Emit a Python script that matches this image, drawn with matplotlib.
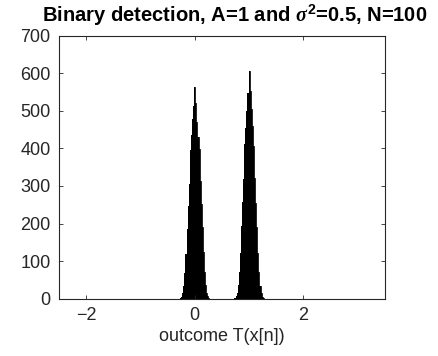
import numpy as np
import matplotlib
matplotlib.use("Agg")
import matplotlib.pyplot as plt

plt.rcParams['font.family'] = ['Liberation Sans', 'DejaVu Sans']
plt.rcParams['mathtext.fontset'] = 'custom'
plt.rcParams['mathtext.it'] = 'Liberation Serif:italic:bold'
plt.rcParams['mathtext.bf'] = 'Liberation Sans:bold'

# histogram bins (width 0.02), offsets from each peak centre
bin_width = 0.02
offsets = np.round(np.arange(-0.26, 0.2601, bin_width), 2)

# counts around T = 0 (H0) and T = 1 (H1)
counts_h0 = [2, 5, 14, 33, 68, 118, 186, 246, 305, 395, 436, 478, 512,
             562, 520, 470, 430, 398, 312, 252, 192, 124, 72, 36, 16, 6, 2]
counts_h1 = [2, 6, 15, 36, 72, 122, 194, 258, 318, 412, 455, 500, 548,
             607, 552, 505, 460, 405, 322, 255, 190, 122, 70, 34, 14, 5, 1]
peak_centres = [0.0, 1.0]

title = r'Binary detection, A=1 and $\sigma^{\mathbf{2}}$=0.5, N=100'
xlabel = 'outcome T(x[n])'
xticks = [-2, 0, 2]
yticks = [0, 100, 200, 300, 400, 500, 600, 700]

fig = plt.figure(figsize=(4.39, 3.56), dpi=100)
ax = fig.add_axes([0.134, 0.161, 0.743, 0.739])

for c, counts in zip(peak_centres, [counts_h0, counts_h1]):
    edges = np.append(c + offsets - bin_width / 2, c + offsets[-1] + bin_width / 2)
    ax.stairs(counts, edges, fill=True, color='black', linewidth=0)
    ax.stairs(counts, edges, color='black', linewidth=0.6)

ax.set_xlim(-2.5, 3.5)
ax.set_ylim(0, 700)
ax.set_xticks(xticks)
ax.set_yticks(yticks)
ax.tick_params(direction='in', length=3, width=0.6, colors='#262626',
               labelsize=13, top=True, right=True, pad=6)
for s in ax.spines.values():
    s.set_color('#262626')
    s.set_linewidth(0.8)
ax.set_xlabel(xlabel, fontsize=13, color='#262626', labelpad=3)
fig.text(0.534, 0.94, title, fontsize=14.5, fontweight='bold',
         ha='center', va='baseline')

fig.savefig('out.png', dpi=100)
